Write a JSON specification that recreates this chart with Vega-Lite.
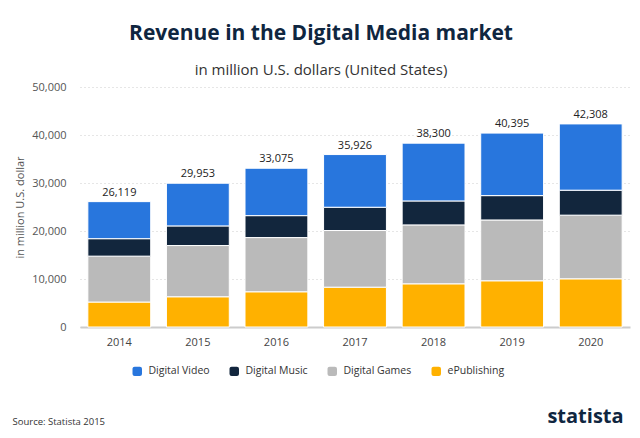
{
  "$schema": "https://vega.github.io/schema/vega-lite/v6.json",
  "width": 550,
  "height": 240,
  "autosize": {"type": "none"},
  "padding": {"left": 80, "top": 87, "right": 10, "bottom": 111},
  "background": "white",
  "config": {"view": {"stroke": null}, "font": "Open Sans"},
  "title": {
    "text": "Revenue in the Digital Media market",
    "subtitle": "in million U.S. dollars (United States)",
    "anchor": "middle",
    "frame": "bounds",
    "font": "Open Sans",
    "fontSize": 21,
    "fontWeight": "bold",
    "color": "#0f2640",
    "subtitleFont": "Open Sans",
    "subtitleFontSize": 15,
    "subtitleColor": "#333333",
    "subtitlePadding": 19,
    "offset": 3
  },
  "data": {
    "values": [
      {"year": "2014", "series": "ePublishing", "value": 5200},
      {"year": "2014", "series": "Digital Games", "value": 9560},
      {"year": "2014", "series": "Digital Music", "value": 3640},
      {"year": "2014", "series": "Digital Video", "value": 7719},
      {"year": "2015", "series": "ePublishing", "value": 6300},
      {"year": "2015", "series": "Digital Games", "value": 10670},
      {"year": "2015", "series": "Digital Music", "value": 4090},
      {"year": "2015", "series": "Digital Video", "value": 8893},
      {"year": "2016", "series": "ePublishing", "value": 7340},
      {"year": "2016", "series": "Digital Games", "value": 11290},
      {"year": "2016", "series": "Digital Music", "value": 4570},
      {"year": "2016", "series": "Digital Video", "value": 9875},
      {"year": "2017", "series": "ePublishing", "value": 8300},
      {"year": "2017", "series": "Digital Games", "value": 11800},
      {"year": "2017", "series": "Digital Music", "value": 4850},
      {"year": "2017", "series": "Digital Video", "value": 10976},
      {"year": "2018", "series": "ePublishing", "value": 9000},
      {"year": "2018", "series": "Digital Games", "value": 12270},
      {"year": "2018", "series": "Digital Music", "value": 4990},
      {"year": "2018", "series": "Digital Video", "value": 12040},
      {"year": "2019", "series": "ePublishing", "value": 9630},
      {"year": "2019", "series": "Digital Games", "value": 12670},
      {"year": "2019", "series": "Digital Music", "value": 5070},
      {"year": "2019", "series": "Digital Video", "value": 13025},
      {"year": "2020", "series": "ePublishing", "value": 10040},
      {"year": "2020", "series": "Digital Games", "value": 13260},
      {"year": "2020", "series": "Digital Music", "value": 5200},
      {"year": "2020", "series": "Digital Video", "value": 13808}
    ]
  },
  "transform": [
    {"calculate": "indexof(['ePublishing','Digital Games','Digital Music','Digital Video'], datum.series)", "as": "stackOrder"}
  ],
  "encoding": {
    "x": {
      "field": "year",
      "type": "ordinal",
      "scale": {"paddingInner": 0.2, "paddingOuter": 0.1},
      "axis": {
        "labelAngle": 0,
        "labelColor": "#444444",
        "labelFontSize": 11,
        "labelPadding": 9,
        "ticks": false,
        "domainColor": "#cccccc",
        "domainWidth": 2,
        "grid": false,
        "title": "Source: Statista 2015",
        "titleX": -68,
        "titleY": 94,
        "titleAlign": "left",
        "titleBaseline": "middle",
        "titleFontSize": 9.5,
        "titleFontWeight": "normal",
        "titleColor": "#333333"
      }
    }
  },
  "layer": [
    {
      "mark": {"type": "bar", "stroke": "white", "strokeWidth": 1},
      "encoding": {
        "y": {
          "aggregate": "sum",
          "field": "value",
          "type": "quantitative",
          "stack": "zero",
          "scale": {"domain": [0, 50000], "nice": false},
          "axis": {
            "values": [0, 10000, 20000, 30000, 40000, 50000],
            "format": ",d",
            "labelColor": "#555555",
            "labelFontSize": 11,
            "labelPadding": 14,
            "ticks": false,
            "domain": false,
            "gridColor": "#cccccc",
            "gridDash": [1, 3],
            "title": "in million U.S. dollar",
            "titleColor": "#555555",
            "titleFontSize": 11,
            "titleFontWeight": "normal",
            "titlePadding": 6
          }
        },
        "color": {
          "field": "series",
          "type": "nominal",
          "scale": {
            "domain": ["Digital Video", "Digital Music", "Digital Games", "ePublishing"],
            "range": ["#2876dd", "#12263d", "#bababa", "#ffb100"]
          },
          "legend": {
            "orient": "none",
            "direction": "horizontal",
            "legendX": 52,
            "legendY": 279,
            "title": null,
            "symbolType": "M-1,-0.55Q-1,-1,-0.55,-1L0.55,-1Q1,-1,1,-0.55L1,0.55Q1,1,0.55,1L-0.55,1Q-1,1,-1,0.55Z",
            "symbolSize": 90,
            "symbolStrokeWidth": 0,
            "labelFontSize": 10.5,
            "labelColor": "#333333",
            "labelOffset": 6,
            "columnPadding": 19
          }
        },
        "order": {"field": "stackOrder", "type": "quantitative", "sort": "ascending"}
      }
    },
    {
      "mark": {"type": "text", "dy": -9, "fontSize": 11, "color": "#222222", "font": "Open Sans"},
      "encoding": {
        "y": {
          "aggregate": "sum",
          "field": "value",
          "type": "quantitative",
          "axis": {
            "orient": "right",
            "labels": false,
            "ticks": false,
            "domain": false,
            "grid": false,
            "title": "statista",
            "titleAngle": 0,
            "titleX": -45,
            "titleY": 329,
            "titleAlign": "center",
            "titleBaseline": "middle",
            "titleFontSize": 20,
            "titleFontWeight": "bold",
            "titleColor": "#0f2640"
          }
        },
        "text": {"aggregate": "sum", "field": "value", "type": "quantitative", "format": ","}
      }
    }
  ],
  "resolve": {"axis": {"y": "independent"}}
}
